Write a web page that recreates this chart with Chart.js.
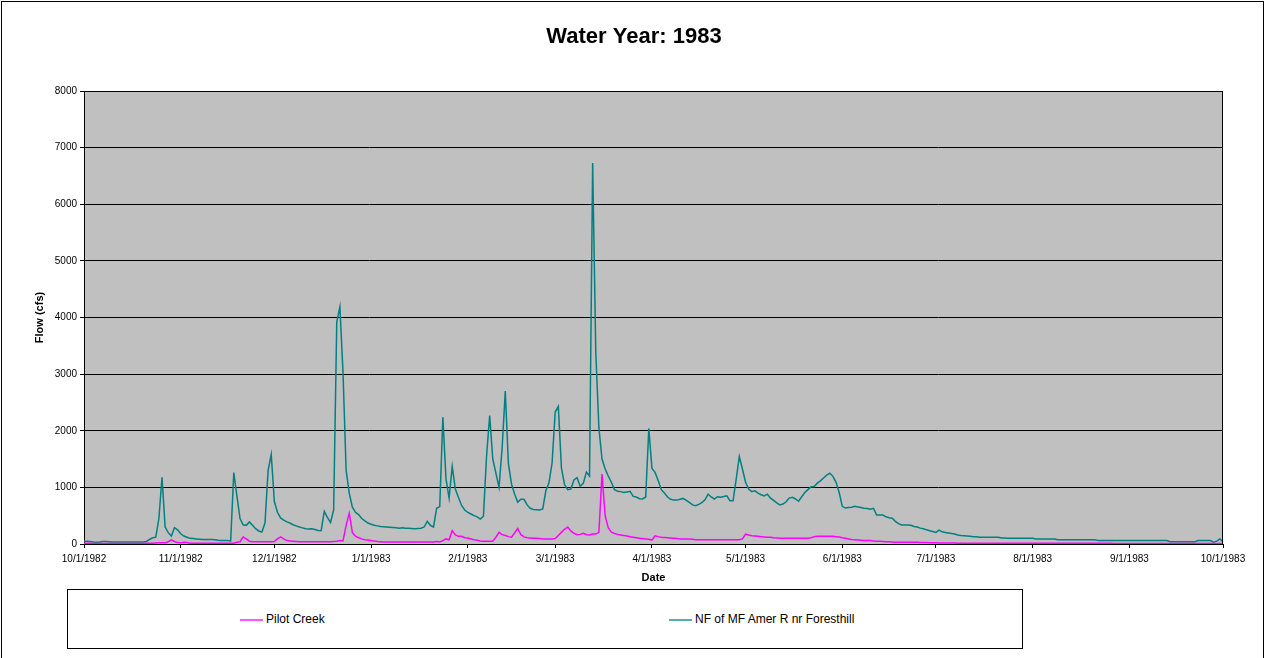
<!DOCTYPE html>
<html>
<head>
<meta charset="utf-8">
<script src="https://cdn.jsdelivr.net/npm/chart.js@4.4.1/dist/chart.umd.min.js"></script>
<style>
  html, body { margin: 0; padding: 0; background: #fff; overflow: hidden; }
  #wrap { position: relative; width: 1265px; height: 658px; }
  #frame { position: absolute; left: 1px; top: 1px; width: 1261px; height: 700px; border: 1px solid #000; pointer-events: none; }
  #legend { position: absolute; left: 67px; top: 589px; width: 954px; height: 58px; border: 1px solid #000; background: #fff;
            font-family: 'Liberation Sans', Arial, sans-serif; font-size: 12px; color: #000; }
  .li { position: absolute; top: 21px; height: 16px; line-height: 16px; white-space: nowrap; }
  .li span.sw { display: inline-block; width: 23px; height: 2px; vertical-align: middle; margin-right: 3px; opacity: 0.65; }
</style>
</head>
<body>
<div id="wrap">
  <canvas id="c" width="1265" height="658"></canvas>
  <div id="frame"></div>
  <div id="legend"></div>
</div>
<script>
// ---- data ----
const chartTitle = 'Water Year: 1983';
const startDate = [1982, 10, 1];
const dayCount = 366;
const monthTicks = ['10/1/1982','11/1/1982','12/1/1982','1/1/1983','2/1/1983','3/1/1983','4/1/1983',
                    '5/1/1983','6/1/1983','7/1/1983','8/1/1983','9/1/1983','10/1/1983'];
const yTicks = [0, 1000, 2000, 3000, 4000, 5000, 6000, 7000, 8000];
const seriesNames = ['Pilot Creek', 'NF of MF Amer R nr Foresthill'];

const pilotCreek = [
  15,15,12,10,10,10,10,10,10,10,
  10,10,10,10,10,10,10,10,10,10,
  12,15,15,18,20,20,20,40,75,45,
  25,20,30,25,15,15,15,15,15,15,
  15,15,15,15,15,15,15,15,15,30,
  40,125,90,50,40,40,40,40,40,40,
  40,45,90,125,90,60,55,50,45,40,
  40,40,40,40,40,40,40,40,40,40,
  45,50,60,55,330,540,200,140,110,90,
  75,70,60,55,45,40,35,35,35,35,
  35,35,35,35,35,35,35,35,35,35,
  35,35,35,45,35,60,90,75,235,160,
  135,135,110,105,90,75,65,55,50,50,
  50,50,120,205,165,150,130,120,195,275,
  165,125,110,105,100,100,95,90,90,90,
  90,95,150,205,260,300,230,190,165,170,
  190,165,160,175,175,205,1235,500,290,210,
  185,170,160,150,140,130,120,110,100,95,
  90,85,70,145,130,120,115,110,105,100,
  95,90,90,90,90,85,75,75,75,75,
  75,75,75,75,75,75,75,75,75,75,
  75,90,175,160,145,140,135,130,125,120,
  120,110,105,100,100,100,100,100,100,100,
  100,100,100,110,130,135,135,135,135,135,
  135,130,125,110,100,90,80,75,70,65,
  60,60,60,55,50,50,45,40,40,35,
  30,30,30,30,30,30,30,30,28,25,
  25,22,20,20,18,18,18,18,18,18,
  15,15,15,15,15,15,15,15,15,15,
  15,15,15,15,15,15,15,15,15,15,
  12,12,12,12,12,12,12,12,12,12,
  12,12,12,12,12,12,12,12,12,12,
  12,12,12,12,12,12,12,12,12,12,
  10,10,10,10,10,10,10,10,10,10,
  10,10,10,10,10,10,10,10,10,10,
  10,10,10,10,10,10,10,10,10,10,
  10,10,10,10,10,10
];

const nfAmerForesthill = [
  50,50,45,35,30,35,45,45,40,35,
  35,35,35,35,35,35,35,35,35,35,
  45,80,110,120,450,1180,300,200,140,290,
  250,180,140,120,100,95,90,85,80,80,
  80,80,75,65,60,60,60,55,1260,850,
  450,340,330,390,330,270,230,210,370,1300,
  1580,750,560,460,420,390,370,340,320,300,
  285,270,265,270,255,240,235,575,470,380,
  600,3920,4190,3030,1300,900,650,560,520,450,
  410,370,350,330,320,310,305,300,295,290,
  285,280,285,280,280,275,270,275,280,300,
  400,330,300,630,660,2240,1150,810,1370,970,
  820,680,600,560,530,500,480,440,490,1550,
  2270,1500,1250,1000,1700,2700,1420,1060,880,740,
  790,790,690,630,610,605,600,620,940,1080,
  1430,2330,2430,1340,1050,960,970,1130,1170,1020,
  1070,1270,1200,6730,3400,2050,1500,1330,1200,1090,
  960,930,925,910,920,930,840,830,800,795,
  830,2040,1335,1265,1120,960,900,830,790,775,
  775,790,805,770,735,690,675,700,730,780,
  880,830,795,835,825,840,850,765,765,1145,
  1545,1325,1090,970,925,940,900,870,850,880,
  810,770,725,690,705,745,810,825,795,755,
  835,910,960,1010,1015,1075,1115,1165,1215,1250,
  1195,1090,910,665,635,645,650,665,655,645,
  630,625,615,630,510,510,510,480,465,455,
  400,360,335,335,335,330,310,300,280,270,
  250,235,220,205,245,215,205,195,185,175,
  160,150,145,140,135,130,130,120,120,120,
  120,120,120,120,105,105,100,100,100,100,
  100,100,100,100,100,90,90,90,90,90,
  90,90,75,75,75,75,75,75,75,75,
  75,75,75,75,75,60,60,60,60,60,
  60,60,60,60,60,60,60,60,60,60,
  60,60,60,60,60,60,60,60,40,40,
  40,40,40,40,40,40,40,60,60,60,
  60,60,30,50,90,40
];

// categories: one label per day
const dates = [];
for (let i = 0; i < dayCount; i++) {
  const d = new Date(startDate[0], startDate[1] - 1, startDate[2] + i);
  dates.push((d.getMonth() + 1) + '/' + d.getDate() + '/' + d.getFullYear());
}

const FONT = "'Liberation Sans', Arial, sans-serif";
Chart.defaults.font.family = FONT;
Chart.defaults.color = '#000';

const PLOT = { left: 84, top: 91, right: 1223, bottom: 544 };

const plotBg = {
  id: 'plotBg',
  beforeDraw(chart) {
    const a = chart.chartArea, ctx = chart.ctx;
    ctx.save();
    ctx.fillStyle = '#C0C0C0';
    ctx.fillRect(a.left, a.top, a.right - a.left, a.bottom - a.top);
    ctx.restore();
  },
  afterDraw(chart) {
    const a = chart.chartArea, ctx = chart.ctx;
    ctx.save();
    ctx.strokeStyle = '#000';
    ctx.lineWidth = 1;
    ctx.beginPath();
    ctx.moveTo(a.left + 0.5, a.top + 0.5);
    ctx.lineTo(a.right - 0.5, a.top + 0.5);
    ctx.lineTo(a.right - 0.5, a.bottom);
    ctx.stroke();
    ctx.font = "bold 22px " + FONT;
    ctx.fillStyle = '#000';
    ctx.textAlign = 'center';
    ctx.textBaseline = 'middle';
    ctx.fillText(chartTitle, 634, 37);
    ctx.restore();
  }
};

const chart = new Chart(document.getElementById('c'), {
  type: 'line',
  data: {
    labels: dates,
    datasets: [
      { label: seriesNames[0], data: pilotCreek, borderColor: '#FF00FF', backgroundColor: '#FF00FF',
        borderWidth: 1.5, pointRadius: 0, tension: 0, fill: false },
      { label: seriesNames[1], data: nfAmerForesthill, borderColor: '#008080', backgroundColor: '#008080',
        borderWidth: 1.5, pointRadius: 0, tension: 0, fill: false }
    ]
  },
  options: {
    responsive: false,
    animation: false,
    devicePixelRatio: 1,
    layout: { padding: { left: 0, top: PLOT.top, right: 1265 - PLOT.right, bottom: 658 - PLOT.bottom - 42 } },
    plugins: { legend: { display: false }, title: { display: false }, tooltip: { enabled: false } },
    scales: {
      x: {
        type: 'category',
        offset: false,
        afterFit(s) { s.height = 42; },
        border: { display: true, color: '#000', width: 1 },
        grid: {
          drawOnChartArea: false, drawTicks: true, tickLength: 4,
          color: (ctx) => monthTicks.includes(dates[ctx.index]) ? '#000' : 'rgba(0,0,0,0)'
        },
        ticks: {
          autoSkip: false, maxRotation: 0, minRotation: 0, padding: 5,
          font: { size: 10 }, color: '#000',
          callback: (v, i) => monthTicks.includes(dates[i]) ? dates[i] : ''
        },
        title: { display: true, text: 'Date', font: { size: 11, weight: 'bold' }, color: '#000', padding: { top: 0, bottom: 1 } }
      },
      y: {
        min: yTicks[0], max: yTicks[yTicks.length - 1],
        afterFit(s) { s.width = PLOT.left; },
        afterBuildTicks(s) { s.ticks = yTicks.map(v => ({ value: v })); },
        border: { display: true, color: '#000', width: 1 },
        grid: { color: '#000', lineWidth: 1, drawTicks: true, tickLength: 4 },
        ticks: { font: { size: 10 }, color: '#000', padding: 3, callback: (v) => String(v) },
        title: { display: true, text: 'Flow (cfs)', font: { size: 11, weight: 'bold' }, color: '#000', padding: { top: 33, bottom: 0 } }
      }
    }
  },
  plugins: [plotBg]
});

// HTML legend built from the chart's datasets
const legendEl = document.getElementById('legend');
const legendX = [172, 601];
chart.data.datasets.forEach((ds, i) => {
  const item = document.createElement('div');
  item.className = 'li';
  item.style.left = legendX[i] + 'px';
  const sw = document.createElement('span');
  sw.className = 'sw';
  sw.style.background = ds.borderColor;
  item.appendChild(sw);
  item.appendChild(document.createTextNode(ds.label));
  legendEl.appendChild(item);
});
</script>
</body>
</html>
